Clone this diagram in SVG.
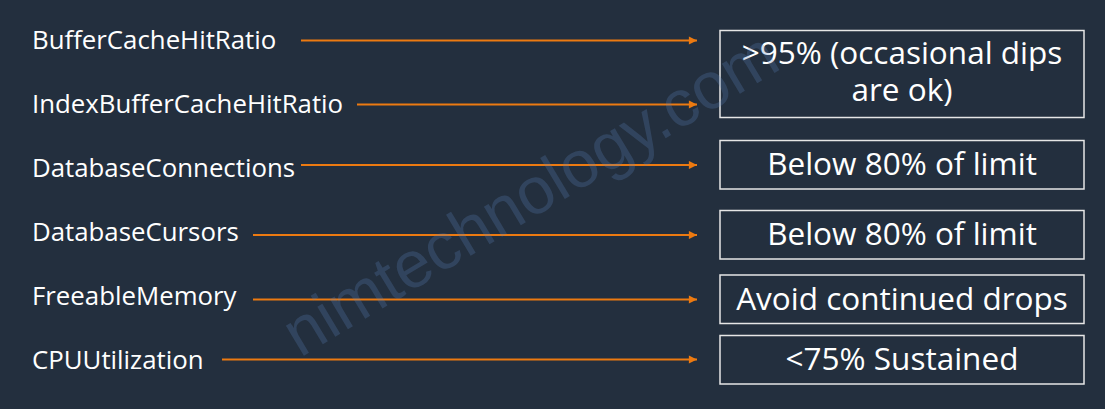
<svg xmlns="http://www.w3.org/2000/svg" width="1105" height="409" viewBox="0 0 1105 409">
<style>
.lbl{font-family:"Open Sans","Noto Sans",sans-serif;font-size:25.8px;fill:#ffffff}
.val{font-family:"Open Sans","Noto Sans",sans-serif;font-size:31.5px;fill:#ffffff;text-anchor:middle}
.box{fill:#232f3e;stroke:#e6e6e6;stroke-width:1.5}
.arr{stroke:#ec7a11;stroke-width:1.8;fill:none;marker-end:url(#ah)}
.wm{font-family:"Liberation Sans",Arial,sans-serif;font-size:66px;fill:#5b84b8;fill-opacity:0.26}
</style>
<defs>
<marker id="ah" viewBox="0 0 10 10" refX="10" refY="5" markerWidth="5" markerHeight="4.5" markerUnits="strokeWidth" orient="auto">
<path d="M0,0 L10,5 L0,10 z" fill="#ec7a11"/>
</marker>
</defs>
<rect width="1105" height="409" fill="#232f3e"/>
<g id="connectors">
<line class="arr" x1="301" y1="40.5" x2="697" y2="40.5"/>
<line class="arr" x1="357" y1="104.5" x2="697" y2="104.5"/>
<line class="arr" x1="301" y1="165" x2="697" y2="165"/>
<line class="arr" x1="253" y1="235" x2="697" y2="235"/>
<line class="arr" x1="253" y1="299.5" x2="697" y2="299.5"/>
<line class="arr" x1="222" y1="359.5" x2="697" y2="359.5"/>
</g>
<g id="m1"><text class="lbl" x="32" y="49">BufferCacheHitRatio</text></g>
<g id="m2"><text class="lbl" x="32" y="113">IndexBufferCacheHitRatio</text></g>
<g id="m3"><text class="lbl" x="32" y="177">DatabaseConnections</text></g>
<g id="m4"><text class="lbl" x="32" y="241">DatabaseCursors</text></g>
<g id="m5"><text class="lbl" x="32" y="305">FreeableMemory</text></g>
<g id="m6"><text class="lbl" x="32" y="369">CPUUtilization</text></g>
<g id="v1"><rect class="box" x="720" y="30.5" width="364" height="87"/><text class="val" x="902" y="64">&gt;95% (occasional dips</text><text class="val" x="902" y="101">are ok)</text></g>
<g id="v2"><rect class="box" x="720" y="140.5" width="364" height="48.5"/><text class="val" x="902" y="175">Below 80% of limit</text></g>
<g id="v3"><rect class="box" x="720" y="210.5" width="364" height="48.5"/><text class="val" x="902" y="245">Below 80% of limit</text></g>
<g id="v4"><rect class="box" x="720" y="275" width="364" height="48.5"/><text class="val" x="902" y="310">Avoid continued drops</text></g>
<g id="v5"><rect class="box" x="720" y="335.5" width="364" height="48.5"/><text class="val" x="902" y="370">&lt;75% Sustained</text></g>
<g id="watermark">
<text class="wm" x="0" y="0" transform="translate(300,358) rotate(-31)">nimtechnology.com</text>
</g>
</svg>
